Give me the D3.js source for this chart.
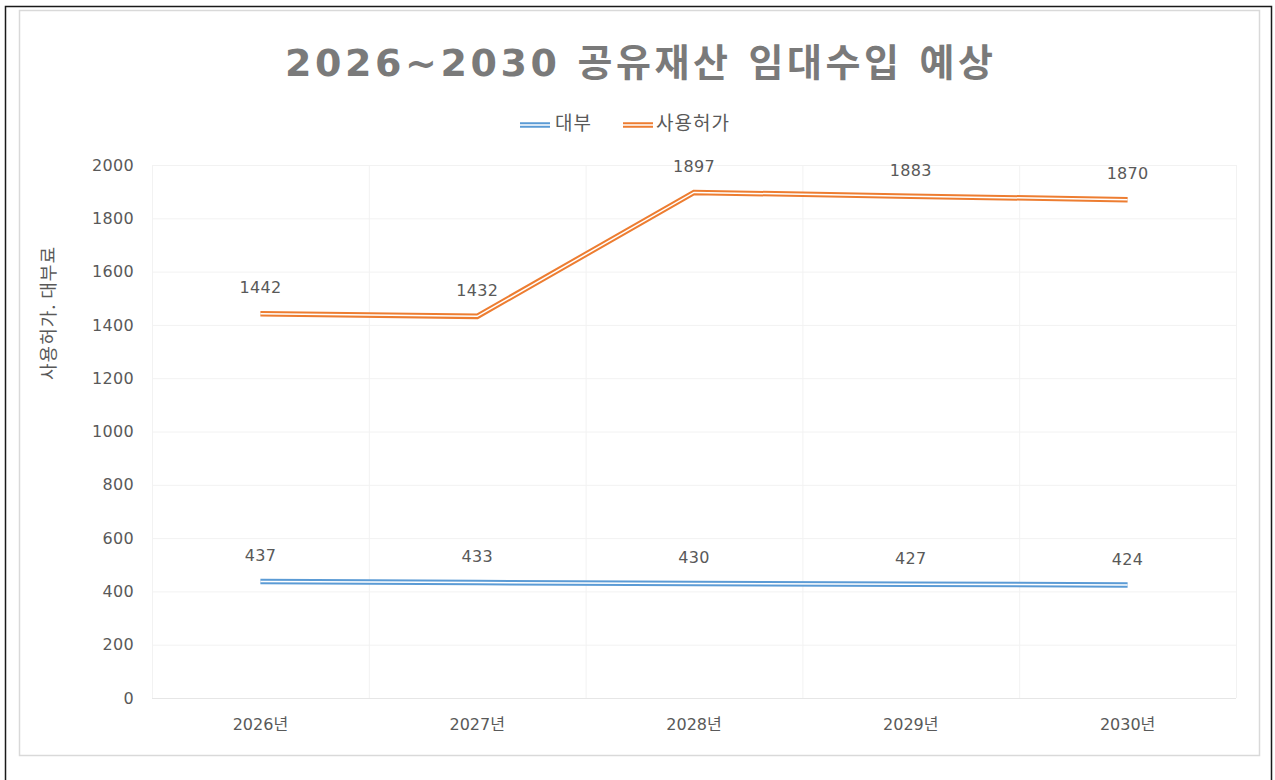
<!DOCTYPE html>
<html>
<head>
<meta charset="utf-8">
<script src="https://cdn.jsdelivr.net/npm/d3@7"></script>
<style>
  body { margin: 0; background: #fff; }
  svg { display: block; }
</style>
</head>
<body>
<div id="chart"></div>
<script>
const width = 1275;
const height = 780;

const years = ["2026년", "2027년", "2028년", "2029년", "2030년"];
const daebu = [437, 433, 430, 427, 424];
const heoga = [1442, 1432, 1897, 1883, 1870];
const seriesNames = ["대부", "사용허가"];
const seriesColors = ["#5b9bd5", "#ed7d31"];
const titleText = "2026~2030 공유재산 임대수입 예상";
const yTitle = "사용허가. 대부료";

const plot = { left: 152, right: 1236, top: 165, bottom: 698 };
const font = "'DejaVu Sans', 'Noto Sans CJK KR', sans-serif";
const textColor = "#595959";

const svg = d3.select("#chart")
    .append("svg")
    .attr("width", width)
    .attr("height", height);

svg.append("rect")
    .attr("width", width)
    .attr("height", height)
    .attr("fill", "#fff");

// outer black frame (no bottom edge visible)
svg.append("path")
    .attr("d", `M5.5,${height} V6.5 H1271.5 V${height}`)
    .attr("fill", "none")
    .attr("stroke", "#1a1a1a")
    .attr("stroke-width", 1.5);

// chart area panel
svg.append("rect")
    .attr("x", 19.5)
    .attr("y", 10.5)
    .attr("width", 1240)
    .attr("height", 745)
    .attr("fill", "#fff")
    .attr("stroke", "#d9d9d9")
    .attr("stroke-width", 1.5);

const x = d3.scaleBand()
    .domain(years)
    .range([plot.left, plot.right])
    .padding(0);

const y = d3.scaleLinear()
    .domain([0, 2000])
    .range([plot.bottom, plot.top]);

const cx = d => x(d) + x.bandwidth() / 2;

// gridlines
const grid = svg.append("g");
grid.selectAll(".hgrid")
    .data(y.ticks(10).filter(t => t > 0))
    .enter().append("line")
    .attr("x1", plot.left)
    .attr("x2", plot.right)
    .attr("y1", d => y(d) + 0.5)
    .attr("y2", d => y(d) + 0.5)
    .attr("stroke", "#f2f2f2");

grid.selectAll(".vgrid")
    .data(years.map(d => x(d)).concat([plot.right]))
    .enter().append("line")
    .attr("x1", d => d + 0.5)
    .attr("x2", d => d + 0.5)
    .attr("y1", plot.top)
    .attr("y2", plot.bottom)
    .attr("stroke", "#f2f2f2");

svg.append("line")
    .attr("x1", plot.left)
    .attr("x2", plot.right)
    .attr("y1", plot.bottom + 0.5)
    .attr("y2", plot.bottom + 0.5)
    .attr("stroke", "#e6e6e6");

// y axis labels
const yAxis = svg.append("g")
    .attr("transform", `translate(${plot.left - 18},0)`)
    .call(d3.axisLeft(y).ticks(10).tickFormat(d3.format("d")).tickSize(0).tickPadding(0));
yAxis.select(".domain").remove();
yAxis.selectAll("text")
    .attr("font-family", font)
    .attr("font-size", 16)
    .attr("letter-spacing", 0.3)
    .attr("fill", textColor);

// x axis labels
const xAxis = svg.append("g")
    .attr("transform", `translate(0,${plot.bottom})`)
    .call(d3.axisBottom(x).tickSize(0).tickPadding(21));
xAxis.select(".domain").remove();
xAxis.selectAll("text")
    .attr("font-family", font)
    .attr("font-size", 16)
    .attr("fill", textColor);

// y title
svg.append("text")
    .attr("transform", "translate(50,313) rotate(-90)")
    .attr("text-anchor", "middle")
    .attr("dominant-baseline", "middle")
    .attr("font-family", "'Noto Sans CJK KR', sans-serif")
    .attr("font-size", 18)
    .attr("letter-spacing", 1)
    .attr("fill", textColor)
    .text(yTitle);

// lines (double compound style)
const line = d3.line()
    .x(d => cx(d.year))
    .y(d => y(d.value));

const series = [daebu, heoga].map((vals, i) => ({
    name: seriesNames[i],
    color: seriesColors[i],
    points: vals.map((v, j) => ({ year: years[j], value: v }))
}));

series.forEach(s => {
    const g = svg.append("g");
    g.append("path")
        .attr("d", line(s.points))
        .attr("fill", "none")
        .attr("stroke", s.color)
        .attr("stroke-width", 5.5);
    g.append("path")
        .attr("d", line(s.points))
        .attr("fill", "none")
        .attr("stroke", "#fff")
        .attr("stroke-width", 1.5);

    g.selectAll("text")
        .data(s.points)
        .enter().append("text")
        .attr("x", d => cx(d.year))
        .attr("y", d => y(d.value) - 25)
        .attr("text-anchor", "middle")
        .attr("dominant-baseline", "middle")
        .attr("font-family", font)
        .attr("font-size", 16)
        .attr("letter-spacing", 0.3)
        .attr("fill", textColor)
        .text(d => d.value);
});

// title, spaced to span the same width as the reference
const title = svg.append("text")
    .attr("x", 639)
    .attr("y", 76)
    .attr("text-anchor", "middle")
    .attr("font-family", "'DejaVu Sans', 'Noto Sans CJK KR', sans-serif")
    .attr("font-weight", "bold")
    .attr("font-size", 38)
    .attr("fill", "#7a7a7a")
    .text(titleText);
const natural = title.node().getComputedTextLength();
const spacing = Math.max(0, (708 - natural) / (titleText.length - 1));
title.attr("letter-spacing", spacing)
    .attr("x", 639 + spacing / 2);

// legend
const legendItems = [
    { x0: 520, tx: 555 },
    { x0: 623, tx: 656 }
];
series.forEach((s, i) => {
    const it = legendItems[i];
    svg.append("line")
        .attr("x1", it.x0).attr("x2", it.x0 + 30)
        .attr("y1", 125).attr("y2", 125)
        .attr("stroke", s.color).attr("stroke-width", 5.5);
    svg.append("line")
        .attr("x1", it.x0).attr("x2", it.x0 + 30)
        .attr("y1", 125).attr("y2", 125)
        .attr("stroke", "#fff").attr("stroke-width", 1.5);
    svg.append("text")
        .attr("x", it.tx)
        .attr("y", 125)
        .attr("dominant-baseline", "middle")
        .attr("font-family", "'Noto Sans CJK KR', sans-serif")
        .attr("font-size", 19)
        .attr("letter-spacing", 1)
        .attr("fill", textColor)
        .text(s.name);
});
</script>
</body>
</html>
